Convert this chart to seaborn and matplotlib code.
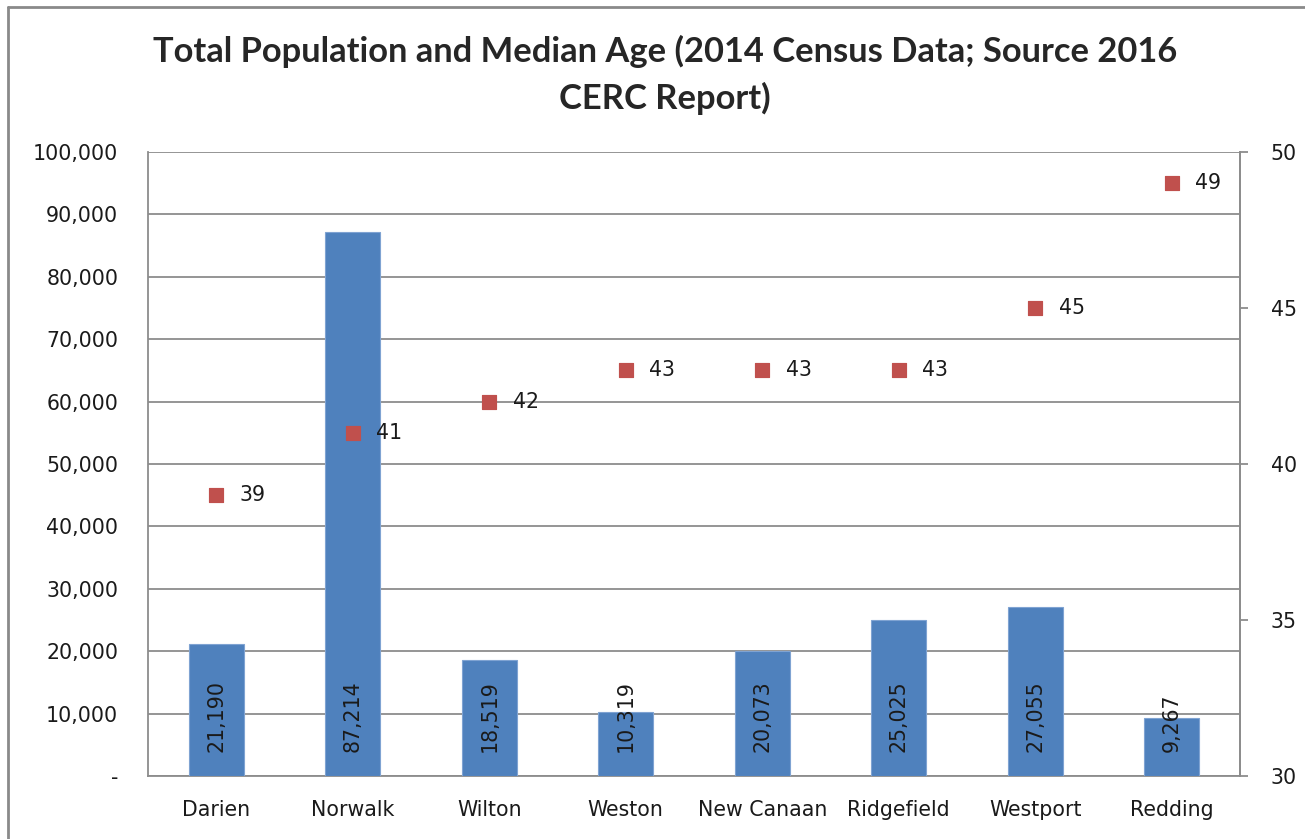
import numpy as np
import pandas as pd
import seaborn as sns
import matplotlib
matplotlib.use('Agg')
from matplotlib import pyplot as plt
from matplotlib.ticker import FuncFormatter
from matplotlib.lines import Line2D

towns = ['Darien', 'Norwalk', 'Wilton', 'Weston', 'New Canaan', 'Ridgefield', 'Westport', 'Redding']
population = [21190, 87214, 18519, 10319, 20073, 25025, 27055, 9267]
median_age = [39, 41, 42, 43, 43, 43, 45, 49]

df = pd.DataFrame({'Town': towns, 'Population': population, 'Median Age': median_age})

sns.set_style('white')
plt.rcParams['font.family'] = ['DejaVu Sans']
fs = 14.8

fig = plt.figure(figsize=(13.05, 8.39), dpi=100)
ax = fig.add_axes([148 / 1305, 1 - 776 / 839, (1240 - 148) / 1305, (776 - 152) / 839])

sns.barplot(data=df, x='Town', y='Population', color='#4F81BD', width=0.4,
            edgecolor='#7FA3D2', linewidth=0.8, saturation=1, ax=ax, zorder=3)
ax.set_ylim(0, 100000)
ax.set_xlim(-0.5, len(towns) - 0.5)
ax.set_yticks(range(0, 100001, 10000))
ax.yaxis.set_major_formatter(FuncFormatter(lambda v, p: '-' if v == 0 else f'{int(v):,}'))
ax.grid(axis='y', color='#8c8c8c', linewidth=1.3, zorder=0)
ax.set_axisbelow(True)
ax.set_xlabel('')
ax.set_ylabel('')
ax.tick_params(axis='y', length=0, pad=21.5, labelsize=fs, labelcolor='#1a1a1a')
ax.tick_params(axis='x', length=0, pad=17.5, labelsize=fs, labelcolor='#1a1a1a')
for side in ['left', 'bottom', 'right']:
    ax.spines[side].set_color('#8c8c8c')
    ax.spines[side].set_linewidth(1.3)
ax.spines['top'].set_visible(False)

for i, v in enumerate(population):
    ax.annotate(f'{v:,}', xy=(i, 0), xytext=(0, 17), textcoords='offset points',
                rotation=90, ha='center', va='bottom', fontsize=fs, color='#1a1a1a', zorder=5)

ax2 = ax.twinx()
sns.scatterplot(x=np.arange(len(towns)), y=median_age, marker='s', s=110, color='#C0504D',
                edgecolor='#C0504D', ax=ax2, zorder=4)
ax2.set_ylim(30, 50)
ax2.set_yticks([30, 35, 40, 45, 50])
ax2.tick_params(axis='y', length=6, width=1.3, color='#8c8c8c', pad=16, labelsize=fs, labelcolor='#1a1a1a')
for side in ['left', 'bottom', 'top']:
    ax2.spines[side].set_visible(False)
ax2.spines['right'].set_color('#8c8c8c')
ax2.spines['right'].set_linewidth(1.3)
for i, v in enumerate(median_age):
    ax2.annotate(str(v), xy=(i, v), xytext=(17, 0), textcoords='offset points',
                 ha='left', va='center', fontsize=fs, color='#1a1a1a')

fig.text(665 / 1305, 1 - 75 / 839, 'Total Population and Median Age (2014 Census Data; Source 2016\nCERC Report)',
         ha='center', va='center', fontsize=24.8, fontweight='bold', family=['Lato', 'DejaVu Sans'],
         linespacing=1.5)

# frame: only top and left edges show in the reference
fig.add_artist(Line2D([7.5 / 1305, 1], [1 - 6.5 / 839, 1 - 6.5 / 839], transform=fig.transFigure,
                      color='#8a8a8a', linewidth=2))
fig.add_artist(Line2D([7.5 / 1305, 7.5 / 1305], [0, 1 - 6.5 / 839], transform=fig.transFigure,
                      color='#8a8a8a', linewidth=2))

fig.savefig('out.png', dpi=100)
